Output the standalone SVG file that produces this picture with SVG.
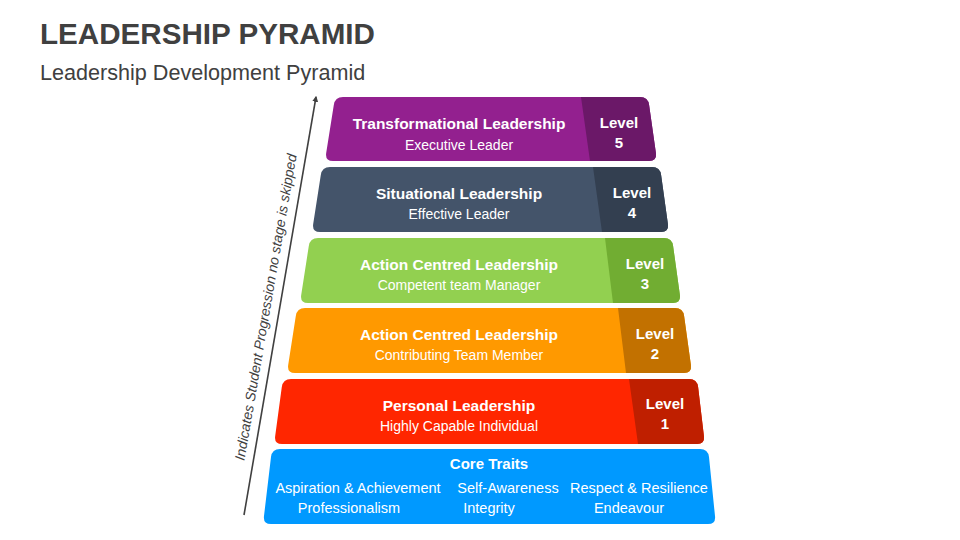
<svg xmlns="http://www.w3.org/2000/svg" width="960" height="540" viewBox="0 0 960 540">
<defs>
<style>
.t{font-family:"Liberation Sans",Arial,sans-serif;fill:#fff;text-anchor:middle}
.h{font-weight:bold;font-size:15.5px}
.s{font-size:14px}
.lv{font-weight:bold;font-size:15px}
.c{font-size:14.5px}
</style>
<marker id="ah" viewBox="0 0 10 10" refX="8" refY="5" markerWidth="6" markerHeight="6" orient="auto" markerUnits="userSpaceOnUse">
<path d="M0,0 L10,5 L0,10 Z" fill="#404040"/>
</marker>
</defs>
<rect width="960" height="540" fill="#fff"/>
<text x="40" y="44" font-family="'Liberation Sans',Arial,sans-serif" font-weight="bold" font-size="29.6" fill="#404040">LEADERSHIP PYRAMID</text>
<text x="40" y="80" font-family="'Liberation Sans',Arial,sans-serif" font-size="21.6" fill="#404040">Leadership Development Pyramid</text>

<g id="connectors">
<line x1="244" y1="515" x2="316" y2="97" stroke="#404040" stroke-width="1.6" marker-end="url(#ah)"/>
<text transform="translate(279.4,309.5) rotate(-80.3)" x="0" y="-9" font-family="'Liberation Sans',Arial,sans-serif" font-style="italic" font-size="14" fill="#404040" text-anchor="middle">Indicates Student Progression no stage is skipped</text>
</g>

<g id="level5">
<path d="M343,97 L640,97 Q648,97 649.1,105 L655.9,153 Q657,161 649,161 L333,161 Q325,161 326.2,153 L333.8,105 Q335,97 343,97 Z" fill="#93208F"/>
<path d="M581,97 L640,97 Q648,97 649.1,105 L655.9,153 Q657,161 649,161 L590,161 Z" fill="#6B1868"/>
<text class="t h" x="459" y="129">Transformational Leadership</text>
<text class="t s" x="459" y="150">Executive Leader</text>
<text class="t lv" x="619" y="128">Level</text>
<text class="t lv" x="619" y="148">5</text>
</g>

<g id="level4">
<path d="M330,167 L652,167 Q660,167 661.1,175 L667.9,224 Q669,232 661,232 L320,232 Q312,232 313.2,224 L320.8,175 Q322,167 330,167 Z" fill="#44546A"/>
<path d="M593,167 L652,167 Q660,167 661.1,175 L667.9,224 Q669,232 661,232 L602,232 Z" fill="#333F50"/>
<text class="t h" x="459" y="199">Situational Leadership</text>
<text class="t s" x="459" y="219">Effective Leader</text>
<text class="t lv" x="632" y="198">Level</text>
<text class="t lv" x="632" y="218">4</text>
</g>

<g id="level3">
<path d="M318,238 L664,238 Q672,238 673.1,246 L679.9,295 Q681,303 673,303 L308,303 Q300,303 301.2,295 L308.8,246 Q310,238 318,238 Z" fill="#92D050"/>
<path d="M605,238 L664,238 Q672,238 673.1,246 L679.9,295 Q681,303 673,303 L613,303 Z" fill="#71AD32"/>
<text class="t h" x="459" y="270">Action Centred Leadership</text>
<text class="t s" x="459" y="290">Competent team Manager</text>
<text class="t lv" x="645" y="269">Level</text>
<text class="t lv" x="645" y="289">3</text>
</g>

<g id="level2">
<path d="M305,308 L675,308 Q683,308 684.1,316 L690.9,365 Q692,373 684,373 L295,373 Q287,373 288.2,365 L295.8,316 Q297,308 305,308 Z" fill="#FF9900"/>
<path d="M618,308 L675,308 Q683,308 684.1,316 L690.9,365 Q692,373 684,373 L626,373 Z" fill="#C27100"/>
<text class="t h" x="459" y="340">Action Centred Leadership</text>
<text class="t s" x="459" y="360">Contributing Team Member</text>
<text class="t lv" x="655" y="339">Level</text>
<text class="t lv" x="655" y="359">2</text>
</g>

<g id="level1">
<path d="M291,379 L689,379 Q697,379 698.1,387 L703.9,436 Q705,444 697,444 L282,444 Q274,444 275.2,436 L281.8,387 Q283,379 291,379 Z" fill="#FF2600"/>
<path d="M629,379 L689,379 Q697,379 698.1,387 L703.9,436 Q705,444 697,444 L638,444 Z" fill="#BF1F00"/>
<text class="t h" x="459" y="411">Personal Leadership</text>
<text class="t s" x="459" y="431">Highly Capable Individual</text>
<text class="t lv" x="665" y="409">Level</text>
<text class="t lv" x="665" y="429">1</text>
</g>

<g id="core">
<path d="M280,449 L700,449 Q708,449 709,457 L715,516 Q716,524 708,524 L271,524 Q263,524 264,516 L271,457 Q272,449 280,449 Z" fill="#0099FF"/>
<text class="t h" x="489" y="469" style="font-size:15px">Core Traits</text>
<text class="t c" x="358" y="493">Aspiration &amp; Achievement</text>
<text class="t c" x="349" y="513">Professionalism</text>
<text class="t c" x="508" y="493">Self-Awareness</text>
<text class="t c" x="489" y="513">Integrity</text>
<text class="t c" x="639" y="493">Respect &amp; Resilience</text>
<text class="t c" x="629" y="513">Endeavour</text>
</g>
</svg>
